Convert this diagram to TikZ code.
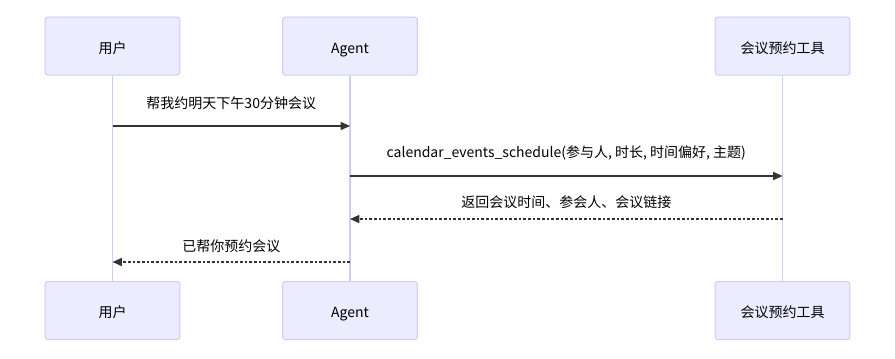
\documentclass[tikz,border=0pt]{standalone}
\usepackage{fontspec}
\setmainfont{Noto Sans CJK SC}
\usetikzlibrary{arrows.meta}
\definecolor{seqFill}{HTML}{ECECFF}
\definecolor{seqBorder}{HTML}{D2CBF2}
\definecolor{seqLine}{HTML}{333333}
\tikzset{
  seq diagram/.style={
    x=0.75pt, y=-0.75pt,
    >={Triangle[length=7pt,width=6pt]},
    every node/.style={font=\fontsize{10.5}{12.6}\selectfont, text=black,
      text height=11pt, text depth=0.5pt}
  },
  seq actor/.style={draw=seqBorder, fill=seqFill, line width=0.75pt,
    rounded corners=2pt, minimum width=101pt, minimum height=43.5pt},
  seq life/.style={draw=seqBorder, line width=1pt},
  seq msg/.style={draw=seqLine, line width=1pt, ->},
  seq reply/.style={seq msg, dash pattern=on 2pt off 1.5pt}
}

\begin{document}
\begin{tikzpicture}[seq diagram]
    \fill[white] (0,0) rectangle (895,358);
    \useasboundingbox (0,0) rectangle (895,358);
    % actors, top and bottom
    \node[seq actor] (userTop) at (112.5,46) {用户};
    \node[seq actor] (agentTop) at (350,46) {Agent};
    \node[seq actor] (toolTop) at (782.5,46) {会议预约工具};
    \node[seq actor] (userBot) at (112.5,310.5) {用户};
    \node[seq actor] (agentBot) at (350,310.5) {Agent};
    \node[seq actor] (toolBot) at (782.5,310.5) {会议预约工具};
    % lifelines
    \draw[seq life] (userTop) -- (userBot);
    \draw[seq life] (agentTop) -- (agentBot);
    \draw[seq life] (toolTop) -- (toolBot);
    % message points
    \coordinate (m1a) at (userTop |- 0,126);
    \coordinate (m1b) at (agentTop |- 0,126);
    \coordinate (m2a) at (agentTop |- 0,176);
    \coordinate (m2b) at (toolTop |- 0,176);
    \coordinate (m3a) at (toolTop |- 0,219);
    \coordinate (m3b) at (agentTop |- 0,219);
    \coordinate (m4a) at (agentTop |- 0,262);
    \coordinate (m4b) at (userTop |- 0,262);
    % messages
    \draw[seq msg] (m1a) -- node[midway, yshift=18.3pt] {帮我约明天下午30分钟会议} (m1b);
    \draw[seq msg] (m2a) -- node[midway, yshift=18.8pt]
      {calendar\_events\_schedule(参与人, 时长, 时间偏好, 主题)} (m2b);
    \draw[seq reply] (m3a) -- node[midway, yshift=13.8pt] {返回会议时间、参会人、会议链接} (m3b);
    \draw[seq reply] (m4a) -- node[midway, yshift=13.1pt] {已帮你预约会议} (m4b);
  \end{tikzpicture}
\end{document}
